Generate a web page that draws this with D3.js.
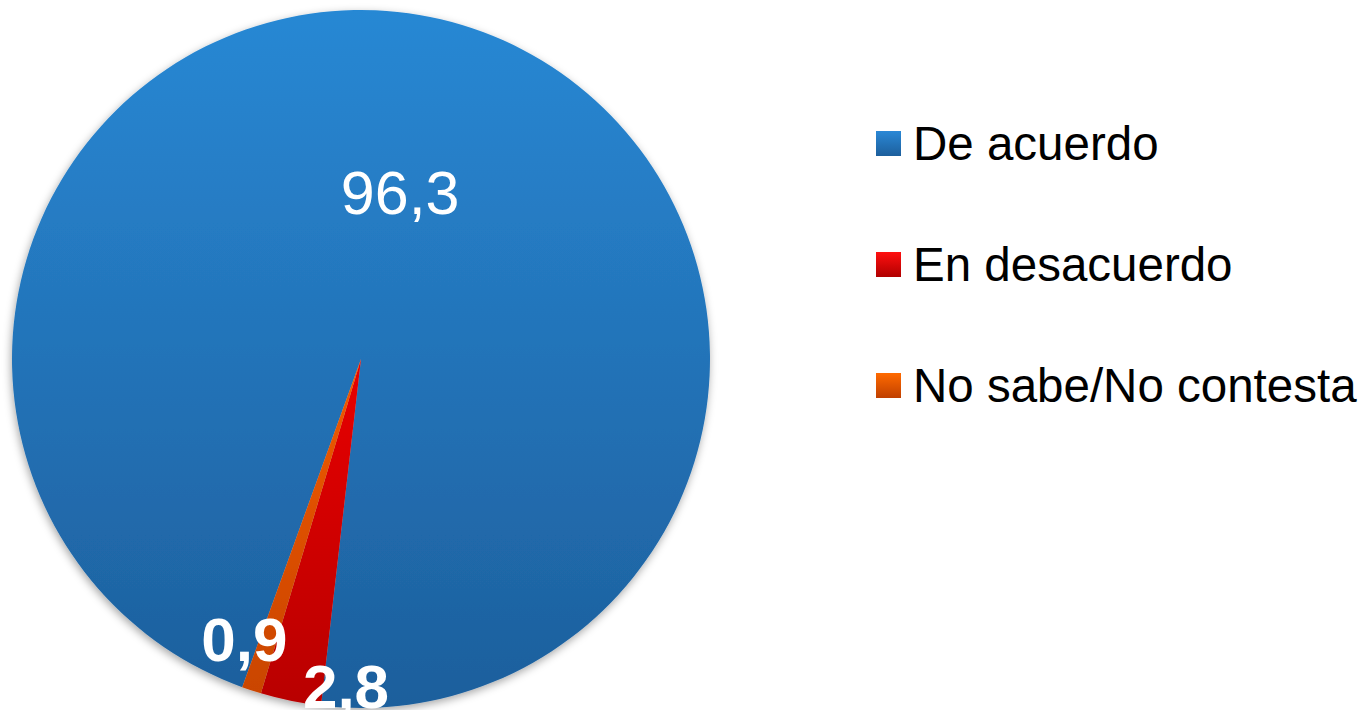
<!DOCTYPE html>
<html>
<head>
<meta charset="utf-8">
<script src="https://cdn.jsdelivr.net/npm/d3@7"></script>
<style>
  body { margin: 0; background: #fff; }
  text { font-family: "Liberation Sans", Arial, sans-serif; }
</style>
</head>
<body>
<div id="cnv"></div>
<script>
var categories = ["De acuerdo", "En desacuerdo", "No sabe/No contesta"];
var values = [96.3, 2.8, 0.9];
var valueLabels = ["96,3", "2,8", "0,9"];

var width = 1371, height = 710;
var cx = 361, cy = 359, radius = 349;

// gradient stops per slice (top, middle, bottom)
var sliceColors = [
  ["#2888d4", "#2373b8", "#1d5f9c"],
  ["#ff2a2a", "#e80000", "#b80000"],
  ["#ff7010", "#f05a00", "#c84400"]
];
var swatchColors = [
  ["#2a88d6", "#1d5f9c"],
  ["#ff1010", "#b00000"],
  ["#ff6a00", "#c04000"]
];
// label placement: radius fraction and angular nudge (deg)
var labelPos = [
  {r: 0.49, da: 0, bold: false, size: 61},
  {r: 0.94, da: -9, bold: true, size: 62},
  {r: 0.87, da: 4.3, bold: true, size: 62}
];

var svg = d3.select("#cnv").append("svg")
  .attr("width", width)
  .attr("height", height);

var defs = svg.append("defs");

var shadow = defs.append("filter")
  .attr("id", "shadow")
  .attr("x", "-10%").attr("y", "-10%")
  .attr("width", "120%").attr("height", "120%");
shadow.append("feDropShadow")
  .attr("dx", -1).attr("dy", 3)
  .attr("stdDeviation", 4)
  .attr("flood-color", "#000")
  .attr("flood-opacity", 0.35);

sliceColors.forEach(function(c, i) {
  var g = defs.append("linearGradient")
    .attr("id", "slice" + i)
    .attr("gradientUnits", "userSpaceOnUse")
    .attr("x1", 0).attr("x2", 0)
    .attr("y1", -radius).attr("y2", radius);
  g.append("stop").attr("offset", "0%").attr("stop-color", c[0]);
  g.append("stop").attr("offset", "50%").attr("stop-color", c[1]);
  g.append("stop").attr("offset", "100%").attr("stop-color", c[2]);
});
swatchColors.forEach(function(c, i) {
  var g = defs.append("linearGradient")
    .attr("id", "swatch" + i)
    .attr("x1", 0).attr("x2", 0).attr("y1", 0).attr("y2", 1);
  g.append("stop").attr("offset", "0%").attr("stop-color", c[0]);
  g.append("stop").attr("offset", "100%").attr("stop-color", c[1]);
});

var startDeg = 199.9;
var pie = d3.pie()
  .sort(null)
  .startAngle(startDeg * Math.PI / 180)
  .endAngle((startDeg + 360) * Math.PI / 180);

var arc = d3.arc().innerRadius(0).outerRadius(radius);

var arcs = pie(values);

var g = svg.append("g")
  .attr("transform", "translate(" + cx + "," + cy + ")");

g.append("g")
  .attr("filter", "url(#shadow)")
  .selectAll("path")
  .data(arcs)
  .enter().append("path")
    .attr("d", arc)
    .attr("fill", function(d, i) { return "url(#slice" + i + ")"; });

//data labels
g.selectAll(".lbl")
  .data(arcs)
  .enter().append("text")
    .attr("class", "lbl")
    .attr("text-anchor", "middle")
    .attr("dominant-baseline", "central")
    .attr("fill", "#fff")
    .attr("font-size", function(d, i) { return labelPos[i].size; })
    .attr("font-weight", function(d, i) { return labelPos[i].bold ? "bold" : "normal"; })
    .attr("x", function(d, i) {
      var a = (d.startAngle + d.endAngle) / 2 + labelPos[i].da * Math.PI / 180;
      return Math.sin(a) * radius * labelPos[i].r;
    })
    .attr("y", function(d, i) {
      var a = (d.startAngle + d.endAngle) / 2 + labelPos[i].da * Math.PI / 180;
      return -Math.cos(a) * radius * labelPos[i].r;
    })
    .text(function(d, i) { return valueLabels[i]; });

//legend
var legendY = d3.scalePoint()
  .domain(categories)
  .range([160, 402]);

var legend = svg.append("g").selectAll("g")
  .data(categories)
  .enter().append("g")
    .attr("transform", function(d) { return "translate(876," + legendY(d) + ")"; });

legend.append("rect")
  .attr("x", 0).attr("y", -29)
  .attr("width", 25).attr("height", 25)
  .attr("fill", function(d, i) { return "url(#swatch" + i + ")"; });

legend.append("text")
  .attr("x", 37).attr("y", 0)
  .attr("font-size", 47.5)
  .attr("fill", "#000")
  .text(function(d) { return d; });
</script>
</body>
</html>
